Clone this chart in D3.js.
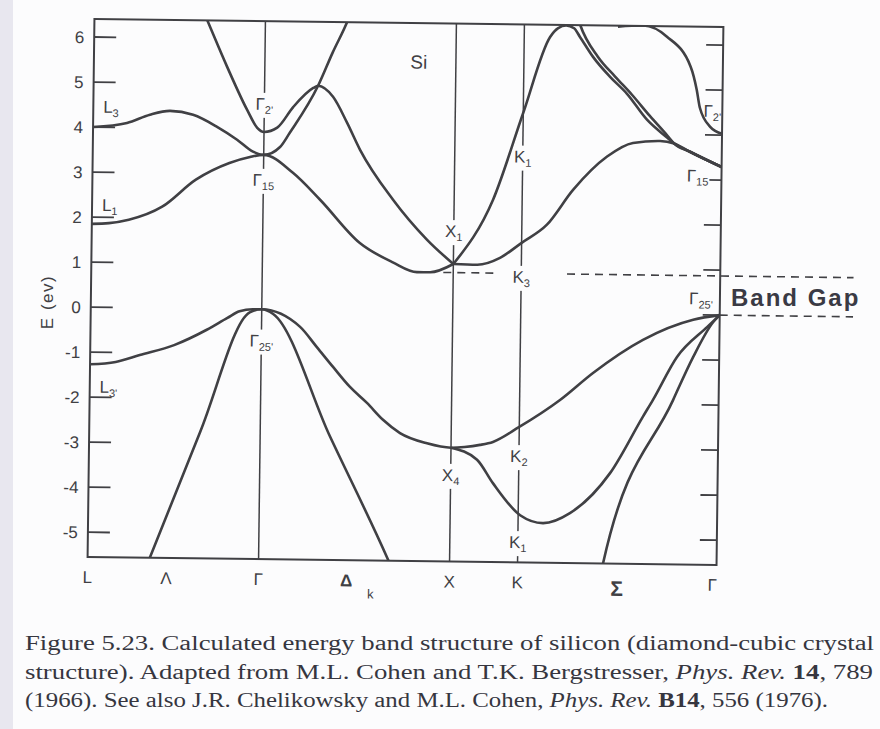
<!DOCTYPE html>
<html>
<head>
<meta charset="utf-8">
<script src="https://cdn.jsdelivr.net/npm/d3@7"></script>
<style>
body { margin: 0; background: #fcfcfd; }
svg { display: block; }
</style>
</head>
<body>
<div class="band-plot"></div>
<script>

// symmetry points along the k path (segment units): L, Γ, X, K, Γ
const kPoints = [0, 1, 2, 3, 4];
const kAxisNames = ['L', 'Λ', 'Γ', 'Δ', 'X', 'K', 'Σ', 'Γ'];
const kAxisAt = [0, 0.46, 1, 1.46, 2, 3, 3.5, 4];
const eTicks = [6, 5, 4, 3, 2, 1, 0, -1, -2, -3, -4, -5];

// bands, [k, E in eV]
const bandGamma2 = [[0.6,6.92],[0.658,6.42],[0.779,5.38],[0.899,4.43],[0.96,4.03],[1,3.94],[1.069,4.04],[1.151,4.5],[1.255,4.93],[1.28,4.98],[1.359,4.74],[1.434,4.17],[1.504,3.57],[1.68,2.47],[1.861,1.59],[2,1.06]];
const bandL1 = [[0,1.85],[0.1,1.87],[0.216,1.95],[0.41,2.25],[0.605,2.86],[0.8,3.24],[0.92,3.38],[1,3.43],[1.154,3.04],[1.298,2.45],[1.509,1.5],[1.683,1.08],[1.81,0.87],[1.878,0.87],[2,1.06]];
const bandL3 = [[0,4.0],[0.198,4.1],[0.332,4.29],[0.449,4.38],[0.584,4.3],[0.725,4.04],[0.843,3.76],[0.937,3.5],[1,3.43],[1.085,3.61],[1.135,3.93],[1.28,4.98],[1.354,5.72],[1.433,6.46],[1.47,6.9]];
const bandX1a = [[2,1.06],[2.35,1.05],[2.685,1.21],[3,1.55],[3.126,1.96],[3.255,2.74],[3.424,3.49],[3.553,3.8],[3.689,3.85],[3.76,3.8],[3.84,3.62],[4,3.29]];
const bandX1b = [[2,1.06],[2.572,2.5],[3,4.44],[3.13,6.13],[3.17,6.33],[3.21,6.39],[3.25,6.33],[3.28,6.14],[3.347,5.7],[3.434,5.26],[3.52,4.89],[3.622,4.32],[3.724,3.93],[3.76,3.8],[3.84,3.62],[4,3.29]];
const bandSigmaUp = [[3.255,6.75],[3.28,6.41],[3.372,5.7],[3.459,5.27],[3.545,4.87],[3.635,4.41],[3.724,3.98],[3.76,3.8],[3.84,3.62],[4,3.29]];
const bandGamma2R = [[3.47,6.38],[3.6,6.41],[3.717,6.17],[3.838,5.51],[3.87,5.0],[3.887,4.6],[3.94,4.18],[4,4.03]];

const bandTopVal = [[0,-1.27],[0.15,-1.21],[0.29,-1.05],[0.49,-0.82],[0.68,-0.47],[0.8,-0.2],[0.87,-0.05],[0.95,0],[1,0],[1.202,-0.38],[1.292,-0.83],[1.377,-1.26],[1.467,-1.7],[1.557,-2.05],[1.642,-2.42],[1.732,-2.71],[1.874,-2.93],[2,-3.02],[2.2,-3.0],[2.425,-2.95],[2.616,-2.88],[3,-2.54],[3.203,-1.93],[3.367,-1.32],[3.616,-0.57],[3.867,-0.11],[4,0]];
const bandSteepVal = [[0.3,-6.2],[0.365,-5.54],[0.65,-2.73],[0.93,-0.07],[1,0],[1.06,-0.1],[1.364,-2.79],[1.672,-5.47],[1.75,-6.2]];
const bandX4 = [[2,-3.02],[2.385,-3.28],[2.62,-3.79],[3.01,-4.5],[3.125,-4.67],[3.26,-4.44],[3.459,-3.54],[3.62,-2.28],[3.67,-1.9],[3.788,-0.94],[3.937,-0.27],[4,0]];
const bandSigmaVal = [[3.4,-6.2],[3.43,-5.54],[3.771,-1.9],[3.869,-0.94],[3.967,-0.16],[4,0]];

const bands = [bandGamma2, bandL1, bandL3, bandX1a, bandX1b, bandSigmaUp, bandGamma2R,
               bandTopVal, bandSteepVal, bandX4, bandSigmaVal];

// level names written next to the curves
const pointLabels = [
  {k:1, e:4.43, name:'Γ', sub:"2'", gap:true},
  {k:1, e:2.74, name:'Γ', sub:'15', gap:true},
  {k:1, e:-0.83, name:'Γ', sub:"25'", gap:true},
  {k:0.058, e:4.32, name:'L', sub:'3', start:true},
  {k:0.058, e:2.14, name:'L', sub:'1', start:true},
  {k:0.058, e:-1.9, name:'L', sub:"3'", start:true},
  {k:2, e:1.66, name:'X', sub:'1', gap:true},
  {k:2, e:-3.76, name:'X', sub:'4', gap:true},
  {k:3, e:3.33, name:'K', sub:'1', gap:true},
  {k:3, e:0.66, name:'K', sub:'3', gap:true},
  {k:3, e:-3.32, name:'K', sub:'2', gap:true},
  {k:3, e:-5.23, name:'K', sub:'1', gap:true},
  {k:3.95, e:4.40, name:'Γ', sub:"2'"},
  {k:3.88, e:2.96, name:'Γ', sub:'15', gap:true},
  {k:3.905, e:0.23, name:'Γ', sub:"25'"}
];

// dashed marks for the gap: [k start, k end, E]
const gapLines = [[1.948, 2.647, 0.87], [3.23, 4.67, 0.87], [4, 4.67, 0]];

const width = 880;
const height = 729;
const ink = '#404044';

const svg = d3.select('.band-plot')
    .append('svg')
    .attr('width', width)
    .attr('height', height);

svg.append('rect').attr('width', width).attr('height', height).attr('fill', '#fcfcfd');
svg.append('rect').attr('width', 13).attr('height', height).attr('fill', '#e8e7ef');

const x = d3.scaleLinear().domain(kPoints).range([91, 262, 453, 521, 720]);
const y = d3.scaleLinear().domain([-5.55, 6.4]).range([561, 23]);

// the scanned figure sits slightly rotated on the page
const g = svg.append('g').attr('transform', 'rotate(0.73,406,291)');

g.append('clipPath').attr('id', 'frame')
    .append('rect')
    .attr('x', x(0)).attr('y', y(6.4))
    .attr('width', x(4) - x(0)).attr('height', y(-5.55) - y(6.4));

// symmetry lines
g.selectAll('.sym')
    .data([1, 2, 3])
    .enter()
    .append('line')
    .attr('class', 'sym')
    .attr('x1', d => x(d)).attr('x2', d => x(d))
    .attr('y1', y(6.4)).attr('y2', y(-5.55))
    .attr('stroke', ink).attr('stroke-width', 1.5);

// ticks on both sides
g.selectAll('.tickL')
    .data(eTicks)
    .enter()
    .append('line')
    .attr('x1', x(0)).attr('x2', x(0) + 22)
    .attr('y1', d => y(d)).attr('y2', d => y(d))
    .attr('stroke', ink).attr('stroke-width', 1.8);

g.selectAll('.tickR')
    .data(eTicks)
    .enter()
    .append('line')
    .attr('x1', x(4) - 17).attr('x2', x(4))
    .attr('y1', d => y(d)).attr('y2', d => y(d))
    .attr('stroke', ink).attr('stroke-width', 1.8);

g.selectAll('.tickText')
    .data(eTicks)
    .enter()
    .append('text')
    .text(d => d)
    .attr('x', x(0) - 10)
    .attr('y', d => y(d))
    .attr('dy', '0.36em')
    .attr('text-anchor', 'end')
    .attr('font-family', 'Liberation Sans, Arial, sans-serif')
    .attr('font-size', 17)
    .attr('fill', ink);

// k axis names
g.selectAll('.kname')
    .data(kAxisNames)
    .enter()
    .append('text')
    .text(d => d)
    .attr('x', (d, i) => x(kAxisAt[i]) + (i == 7 ? -4 : 0))
    .attr('y', (d, i) => d == 'Σ' ? 593 : 587)
    .attr('text-anchor', 'middle')
    .attr('font-family', 'Liberation Sans, Arial, sans-serif')
    .attr('font-size', d => d == 'Σ' ? 21 : 17)
    .attr('font-weight', d => (d == 'Σ' || d == 'Δ') ? 'bold' : 'normal')
    .attr('fill', ink);

g.append('text')
    .text('k')
    .attr('x', x(1.46) + 21).attr('y', 599)
    .attr('font-family', 'Liberation Sans, Arial, sans-serif')
    .attr('font-size', 13)
    .attr('fill', ink);

// label backgrounds cut the symmetry lines
const bgLayer = g.append('g');

const line = d3.line()
    .x(d => x(d[0]))
    .y(d => y(d[1]))
    .curve(d3.curveMonotoneX);

g.append('g')
    .attr('clip-path', 'url(#frame)')
    .selectAll('path')
    .data(bands)
    .enter()
    .append('path')
    .attr('d', line)
    .attr('fill', 'none')
    .attr('stroke', ink)
    .attr('stroke-width', 2.6)
    .attr('stroke-linejoin', 'round');

// frame
g.append('rect')
    .attr('x', x(0)).attr('y', y(6.4))
    .attr('width', x(4) - x(0)).attr('height', y(-5.55) - y(6.4))
    .attr('fill', 'none')
    .attr('stroke', ink)
    .attr('stroke-width', 2);

// dashed band gap marks
g.selectAll('.gapline')
    .data(gapLines)
    .enter()
    .append('line')
    .attr('x1', d => x(d[0])).attr('x2', d => x(d[1]))
    .attr('y1', d => y(d[2])).attr('y2', d => y(d[2]))
    .attr('stroke', ink)
    .attr('stroke-width', 1.6)
    .attr('stroke-dasharray', '8,6');

// level labels
const labelLayer = g.append('g');
pointLabels.forEach(p => {
    const t = labelLayer.append('text')
        .attr('x', x(p.k))
        .attr('y', y(p.e))
        .attr('text-anchor', p.start ? 'start' : 'middle')
        .attr('font-family', 'Liberation Sans, Arial, sans-serif')
        .attr('font-size', 17)
        .attr('fill', ink);
    t.append('tspan').text(p.name);
    t.append('tspan').text(p.sub).attr('font-size', 11).attr('dy', 4);
    if (p.gap) {
        const b = t.node().getBBox();
        bgLayer.append('rect')
            .attr('x', b.x - 1).attr('y', b.y - 2)
            .attr('width', b.width + 2).attr('height', b.height + 4)
            .attr('fill', '#fcfcfd');
    }
});

g.append('text')
    .text('Si')
    .attr('x', x(1.806)).attr('y', y(5.39))
    .attr('text-anchor', 'middle')
    .attr('font-family', 'Liberation Sans, Arial, sans-serif')
    .attr('font-size', 19)
    .attr('fill', ink);

svg.append('text')
    .text('E (ev)')
    .attr('transform', 'translate(53,302) rotate(-90)')
    .attr('text-anchor', 'middle')
    .attr('font-family', 'Liberation Sans, Arial, sans-serif')
    .attr('font-size', 17)
    .attr('letter-spacing', 1.5)
    .attr('fill', ink);

svg.append('text')
    .text('Band Gap')
    .attr('x', 731).attr('y', 306)
    .attr('font-family', 'Liberation Sans, Arial, sans-serif')
    .attr('font-size', 24)
    .attr('font-weight', 'bold')
    .attr('letter-spacing', 2)
    .attr('fill', '#3a3a44');

// caption
const capLines = [
    {y: 650, len: 849, parts: [['Figure 5.23. Calculated energy band structure of silicon (diamond-cubic crystal', '']]},
    {y: 679, len: 848, parts: [['structure). Adapted from M.L. Cohen and T.K. Bergstresser, ', ''], ['Phys. Rev.', 'i'], [' ', ''], ['14', 'b'], [', 789', '']]},
    {y: 707, len: 803, parts: [['(1966). See also J.R. Chelikowsky and M.L. Cohen, ', ''], ['Phys. Rev.', 'i'], [' ', ''], ['B14', 'b'], [', 556 (1976).', '']]}
];
capLines.forEach(c => {
    const t = svg.append('text')
        .attr('x', 25).attr('y', c.y)
        .attr('textLength', c.len)
        .attr('lengthAdjust', 'spacingAndGlyphs')
        .attr('font-family', 'Liberation Serif, Times New Roman, serif')
        .attr('font-size', 20)
        .attr('fill', '#36363f')
        .attr('xml:space', 'preserve');
    c.parts.forEach(p => {
        t.append('tspan').text(p[0])
            .attr('font-style', p[1] == 'i' ? 'italic' : 'normal')
            .attr('font-weight', p[1] == 'b' ? 'bold' : 'normal');
    });
});

</script>
</body>
</html>
